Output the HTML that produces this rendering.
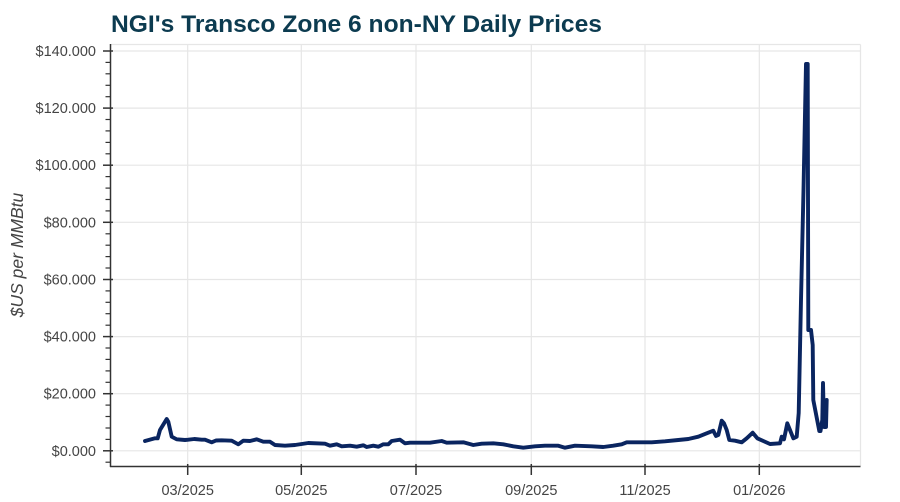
<!DOCTYPE html>
<html><head><meta charset="utf-8"><style>
html,body{margin:0;padding:0;background:#fff;}
svg{display:block;}
text{font-family:"Liberation Sans",Arial,sans-serif;}
</style></head><body>
<svg width="900" height="502" viewBox="0 0 900 502" xmlns="http://www.w3.org/2000/svg">
<rect width="900" height="502" fill="#fff"/>
<text x="111" y="32" font-size="24.5" font-weight="bold" fill="#0c3b50" textLength="491" lengthAdjust="spacingAndGlyphs">NGI's Transco Zone 6 non-NY Daily Prices</text>
<!-- grid -->
<g stroke="#e6e6e6" stroke-width="1.2" fill="none">
<line x1="111" y1="44.5" x2="860.5" y2="44.5"/>
<line x1="860.5" y1="44.5" x2="860.5" y2="466"/>
<line x1="111" y1="450.8" x2="860.5" y2="450.8"/>
<line x1="111" y1="393.7" x2="860.5" y2="393.7"/>
<line x1="111" y1="336.6" x2="860.5" y2="336.6"/>
<line x1="111" y1="279.5" x2="860.5" y2="279.5"/>
<line x1="111" y1="222.3" x2="860.5" y2="222.3"/>
<line x1="111" y1="165.2" x2="860.5" y2="165.2"/>
<line x1="111" y1="108.1" x2="860.5" y2="108.1"/>
<line x1="111" y1="51" x2="860.5" y2="51"/>
<line x1="187.7" y1="44" x2="187.7" y2="466"/>
<line x1="301.3" y1="44" x2="301.3" y2="466"/>
<line x1="416" y1="44" x2="416" y2="466"/>
<line x1="531.3" y1="44" x2="531.3" y2="466"/>
<line x1="645" y1="44" x2="645" y2="466"/>
<line x1="759.3" y1="44" x2="759.3" y2="466"/>
</g>
<!-- data line -->
<polyline fill="none" stroke="#0a2560" stroke-width="3.9" stroke-linejoin="round" stroke-linecap="round" points="145,441 155,438.3 157.7,438.3 160,430 166.7,419 168.3,421.7 171.7,436.7 176.7,439.3 185,440 188.3,439.7 194.3,439 201.7,439.7 205,439.7 211.7,442.3 216,440.5 221.7,440.3 231.7,440.7 238.3,444.3 243.3,440.7 250,441 256.7,439.3 263.3,441.7 270,441.7 275,445 285,445.7 295,445 308.3,443 325,443.7 330,445.7 336.7,444.3 341.7,446.3 350,445.7 356.7,446.7 363.3,445.3 366.7,447 373.3,445.7 378.3,446.7 383.3,444.3 388.3,444.3 391.7,441 400,439.7 405,443.3 410,442.7 430,442.7 441.7,441 446.7,442.7 463.3,442.3 473.3,445 481.7,443.7 493.3,443.3 503.3,444.3 513.3,446.3 523.3,447.7 535,446.3 545,445.7 558.3,445.7 565,447.7 575,445.7 591.7,446.3 603.3,447 613.3,445.7 621.7,444.3 626.7,442.3 638.3,442.3 651.7,442.3 665,441.3 678.3,440 688.3,439 698.3,436.7 706.7,433.3 713.3,430.7 716,436 718.3,435 721.7,420.7 724,423.3 726.7,430 729.3,440 735,440.7 741.7,442.3 746.7,438.3 752.7,432.7 757.3,438.3 763.3,441 770,444 780,443.3 781.7,436.7 784,439.3 787.3,423.3 790,430 793.3,438.3 796.7,436.7 798.7,413 801,300 803.5,190 806,64 807.7,64 808.3,330 811,330 812.7,345 813.3,400 819.3,431 820.5,431 822.3,420 823,383 824,427 826,427 826.7,400"/>
<!-- axes -->
<g stroke="#333" stroke-width="1.5" fill="none">
<line x1="110.5" y1="44" x2="110.5" y2="467"/>
<line x1="110" y1="466.5" x2="860.5" y2="466.5"/>
</g>
<!-- y major ticks -->
<g stroke="#333" stroke-width="1.5">
<line x1="103" y1="450.8" x2="113" y2="450.8"/>
<line x1="103" y1="393.7" x2="113" y2="393.7"/>
<line x1="103" y1="336.6" x2="113" y2="336.6"/>
<line x1="103" y1="279.5" x2="113" y2="279.5"/>
<line x1="103" y1="222.3" x2="113" y2="222.3"/>
<line x1="103" y1="165.2" x2="113" y2="165.2"/>
<line x1="103" y1="108.1" x2="113" y2="108.1"/>
<line x1="103" y1="51" x2="113" y2="51"/>
</g>
<!-- y minor ticks -->
<g stroke="#333" stroke-width="1.2">
<line x1="105.5" y1="462.2" x2="110.5" y2="462.2"/>
<line x1="105.5" y1="439.4" x2="110.5" y2="439.4"/>
<line x1="105.5" y1="428.0" x2="110.5" y2="428.0"/>
<line x1="105.5" y1="416.5" x2="110.5" y2="416.5"/>
<line x1="105.5" y1="405.1" x2="110.5" y2="405.1"/>
<line x1="105.5" y1="382.3" x2="110.5" y2="382.3"/>
<line x1="105.5" y1="370.9" x2="110.5" y2="370.9"/>
<line x1="105.5" y1="359.4" x2="110.5" y2="359.4"/>
<line x1="105.5" y1="348.0" x2="110.5" y2="348.0"/>
<line x1="105.5" y1="325.2" x2="110.5" y2="325.2"/>
<line x1="105.5" y1="313.7" x2="110.5" y2="313.7"/>
<line x1="105.5" y1="302.3" x2="110.5" y2="302.3"/>
<line x1="105.5" y1="290.9" x2="110.5" y2="290.9"/>
<line x1="105.5" y1="268.0" x2="110.5" y2="268.0"/>
<line x1="105.5" y1="256.6" x2="110.5" y2="256.6"/>
<line x1="105.5" y1="245.2" x2="110.5" y2="245.2"/>
<line x1="105.5" y1="233.8" x2="110.5" y2="233.8"/>
<line x1="105.5" y1="210.9" x2="110.5" y2="210.9"/>
<line x1="105.5" y1="199.5" x2="110.5" y2="199.5"/>
<line x1="105.5" y1="188.1" x2="110.5" y2="188.1"/>
<line x1="105.5" y1="176.6" x2="110.5" y2="176.6"/>
<line x1="105.5" y1="153.8" x2="110.5" y2="153.8"/>
<line x1="105.5" y1="142.4" x2="110.5" y2="142.4"/>
<line x1="105.5" y1="130.9" x2="110.5" y2="130.9"/>
<line x1="105.5" y1="119.5" x2="110.5" y2="119.5"/>
<line x1="105.5" y1="96.7" x2="110.5" y2="96.7"/>
<line x1="105.5" y1="85.3" x2="110.5" y2="85.3"/>
<line x1="105.5" y1="73.8" x2="110.5" y2="73.8"/>
<line x1="105.5" y1="62.4" x2="110.5" y2="62.4"/>
</g>
<!-- x ticks -->
<g stroke="#333" stroke-width="1.5">
<line x1="187.7" y1="464" x2="187.7" y2="475"/>
<line x1="301.3" y1="464" x2="301.3" y2="475"/>
<line x1="416" y1="464" x2="416" y2="475"/>
<line x1="531.3" y1="464" x2="531.3" y2="475"/>
<line x1="645" y1="464" x2="645" y2="475"/>
<line x1="759.3" y1="464" x2="759.3" y2="475"/>
</g>
<!-- y tick labels -->
<g font-size="14.5" fill="#444" text-anchor="end">
<text x="96" y="455.8">$0.000</text>
<text x="96" y="398.7">$20.000</text>
<text x="96" y="341.6">$40.000</text>
<text x="96" y="284.5">$60.000</text>
<text x="96" y="227.3">$80.000</text>
<text x="96" y="170.2">$100.000</text>
<text x="96" y="113.1">$120.000</text>
<text x="96" y="56">$140.000</text>
</g>
<!-- x tick labels -->
<g font-size="14.5" fill="#444" text-anchor="middle">
<text x="187.7" y="495">03/2025</text>
<text x="301.3" y="495">05/2025</text>
<text x="416" y="495">07/2025</text>
<text x="531.3" y="495">09/2025</text>
<text x="645" y="495">11/2025</text>
<text x="759.3" y="495">01/2026</text>
</g>
<text transform="translate(23,255) rotate(-90)" font-size="17.5" font-style="italic" fill="#444" text-anchor="middle">$US per MMBtu</text>
</svg>
</body></html>
